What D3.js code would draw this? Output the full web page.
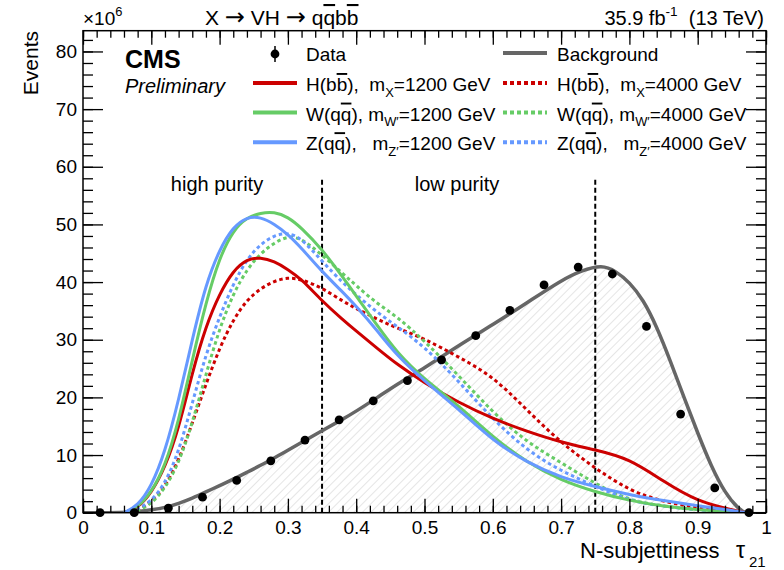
<!DOCTYPE html>
<html><head><meta charset="utf-8">
<script src="https://cdn.jsdelivr.net/npm/d3@7"></script>
<style>
body{margin:0;background:#fff}
text{font-family:"Liberation Sans",Arial,Helvetica,sans-serif;fill:#000}
</style>
</head><body>
<svg id="chart" width="784" height="570"></svg>
<script>
// ---------------- data ----------------
const gridX   = [0.06,0.08,0.10,0.12,0.14,0.16,0.18,0.20,0.22,0.24,0.26,0.28,0.30,0.32,0.35,0.38,0.40,0.43,0.46,0.50,0.55,0.60,0.65,0.70,0.75,0.80,0.85,0.90,0.95,0.97];
const hbb1200 = [0,0.8,3.4,7.8,14.5,24.3,32.4,38.0,42.0,44.0,44.3,43.6,42.2,40.5,36.7,33.5,31.5,28.6,25.7,22.5,19.1,16.3,14.1,12.2,10.9,9.4,5.4,1.9,0.5,0];
const wqq1200 = [0,0.9,3.5,8.0,15.8,26.5,36.5,44.3,49.0,51.2,52.0,52.2,51.3,49.4,45.7,40.9,37.6,32.6,27.7,23.1,18.6,13.1,8.7,5.6,3.6,2.1,1.1,0.5,0.1,0];
const zqq1200 = [0,1.2,4.5,10.5,19.5,30.1,39.7,45.7,49.6,51.3,51.3,50.1,48.3,45.9,41.8,38.3,35.8,31.7,27.2,22.8,18.0,12.5,8.7,6.1,4.5,3.1,2.1,1.2,0.4,0];
const hbb4000 = [0,0.4,1.8,4.5,9.0,15.5,22.3,28.6,33.5,36.9,38.9,40.2,40.8,40.5,39.0,36.7,35.4,33.6,32.0,30.2,27.0,23.7,17.8,12.1,7.7,3.8,1.9,0.8,0.3,0];
const wqq4000 = [0,0.3,1.5,4.2,8.5,15.5,24.0,32.0,38.0,42.2,45.0,46.8,48.0,47.6,44.7,41.5,39.4,36.3,34.0,29.8,23.8,17.4,12.2,8.7,5.0,2.1,1.1,0.5,0.1,0];
const zqq4000 = [0,0.6,2.0,5.0,10.5,19.0,27.5,34.0,39.7,44.0,46.6,48.1,48.6,47.6,43.6,39.9,37.8,34.8,32.3,28.8,22.8,16.2,10.8,7.2,4.6,2.0,1.1,0.5,0.1,0];
const bkgX    = [0,0.06,0.08,0.10,0.12,0.14,0.16,0.18,0.20,0.22,0.24,0.26,0.28,0.30,0.32,0.35,0.38,0.40,0.43,0.46,0.50,0.55,0.60,0.65,0.70,0.73,0.76,0.78,0.80,0.82,0.84,0.86,0.88,0.90,0.92,0.94,0.96,0.97];
const bkgY    = [0,0,0.2,0.5,0.85,1.6,2.5,3.6,4.7,5.8,7.0,8.2,9.5,10.8,12.2,14.2,16.2,17.6,19.9,22.3,25.1,29.0,32.6,36.4,40.3,42.0,43.0,41.9,40.0,37.0,32.3,26.3,20.0,13.8,8.0,3.4,0.6,0];
const dataX   = [0.025,0.075,0.125,0.175,0.225,0.275,0.325,0.375,0.425,0.475,0.525,0.575,0.625,0.675,0.725,0.775,0.825,0.875,0.925,0.975];
const dataY   = [0,0,0.8,2.7,5.6,9.0,12.6,16.1,19.4,22.9,26.5,30.7,35.1,39.5,42.6,41.4,32.3,17.1,4.3,0];
const purityCuts = [0.35,0.75];
const xMajorTicks = [0,0.1,0.2,0.3,0.4,0.5,0.6,0.7,0.8,0.9,1];
const xTickLabels = ["0","0.1","0.2","0.3","0.4","0.5","0.6","0.7","0.8","0.9","1"];
const yMajorTicks = [0,10,20,30,40,50,60,70,80];
const yTickLabels = ["0","10","20","30","40","50","60","70","80"];

// ---------------- layout ----------------
const svg = d3.select("#chart");
const X0 = 83, X1 = 766, Y0 = 512.7, Y1 = 30.7;
const x = d3.scaleLinear().domain([0,1]).range([X0,X1]);
const y = d3.scaleLinear().domain([0,83.6]).range([Y0,Y1]);

const RED="#cc0000", GREEN="#66cc66", BLUE="#6699ff", GREY="#666666";

const defs = svg.append("defs");
const pat = defs.append("pattern").attr("id","hatch").attr("patternUnits","userSpaceOnUse")
  .attr("width",6).attr("height",6).attr("patternTransform","rotate(45)");
pat.append("line").attr("x1",0).attr("y1",0).attr("x2",0).attr("y2",6)
  .attr("stroke","#d4d4d4").attr("stroke-width",1.2);
defs.append("clipPath").attr("id","clip").append("rect")
  .attr("x",X0).attr("y",Y1).attr("width",X1-X0).attr("height",Y0-Y1);

const plot = svg.append("g").attr("clip-path","url(#clip)");

const bkg = bkgX.map((v,i)=>[v,bkgY[i]]);
plot.append("path").datum(bkg)
  .attr("d", d3.area().x(d=>x(d[0])).y0(y(0)).y1(d=>y(d[1])).curve(d3.curveBasis))
  .attr("fill","url(#hatch)");

purityCuts.forEach(c=>{
  plot.append("line").attr("x1",x(c)).attr("x2",x(c)).attr("y1",y(0)).attr("y2",y(58))
    .attr("stroke","#000").attr("stroke-width",2).attr("stroke-dasharray","5,3");
});

plot.append("path").datum(bkg)
  .attr("d", d3.line().x(d=>x(d[0])).y(d=>y(d[1])).curve(d3.curveBasis))
  .attr("fill","none").attr("stroke",GREY).attr("stroke-width",3.5);

const signals = [
  {v:hbb4000,c:RED,dash:"3.5,3"},
  {v:wqq4000,c:GREEN,dash:"3.5,3"},
  {v:zqq4000,c:BLUE,dash:"3.5,3"},
  {v:hbb1200,c:RED,dash:null},
  {v:wqq1200,c:GREEN,dash:null},
  {v:zqq1200,c:BLUE,dash:null},
];
const sline = d3.line().x(d=>x(d[0])).y(d=>y(d[1])).curve(d3.curveBasis);
signals.forEach(s=>{
  plot.append("path").datum(gridX.map((v,i)=>[v,s.v[i]]))
    .attr("d",sline).attr("fill","none").attr("stroke",s.c).attr("stroke-width",3)
    .attr("stroke-dasharray",s.dash);
});

svg.append("g").selectAll("circle").data(dataX.map((v,i)=>[v,dataY[i]])).join("circle")
  .attr("cx",d=>x(d[0])).attr("cy",d=>y(d[1])).attr("r",4.4).attr("fill","#000");

// ---------------- axes ----------------
const xMinor = d3.range(0,1.0001,0.02).map(v=>+v.toFixed(2));
const yMinor = d3.range(0,83.6,2);
function styleAxis(g){ g.select(".domain").remove(); g.selectAll("line").attr("stroke","#000").attr("stroke-width",1.3); }

svg.append("g").attr("transform",`translate(0,${Y0})`)
  .call(d3.axisBottom(x).tickValues(xMinor).tickSize(-7).tickFormat("")).call(styleAxis);
const xb = svg.append("g").attr("transform",`translate(0,${Y0})`)
  .call(d3.axisBottom(x).tickValues(xMajorTicks).tickSize(-14).tickPadding(8)
    .tickFormat((d,i)=>xTickLabels[i])).call(styleAxis);
xb.selectAll("text").attr("font-size",19).attr("font-family",null);
svg.append("g").attr("transform",`translate(0,${Y1})`)
  .call(d3.axisTop(x).tickValues(xMinor).tickSize(-7).tickFormat("")).call(styleAxis);
svg.append("g").attr("transform",`translate(0,${Y1})`)
  .call(d3.axisTop(x).tickValues(xMajorTicks).tickSize(-14).tickFormat("")).call(styleAxis);

svg.append("g").attr("transform",`translate(${X0},0)`)
  .call(d3.axisLeft(y).tickValues(yMinor).tickSize(-10).tickFormat("")).call(styleAxis);
const yl = svg.append("g").attr("transform",`translate(${X0},0)`)
  .call(d3.axisLeft(y).tickValues(yMajorTicks).tickSize(-20).tickPadding(6)
    .tickFormat((d,i)=>yTickLabels[i])).call(styleAxis);
yl.selectAll("text").attr("font-size",19).attr("font-family",null);
svg.append("g").attr("transform",`translate(${X1},0)`)
  .call(d3.axisRight(y).tickValues(yMinor).tickSize(-10).tickFormat("")).call(styleAxis);
svg.append("g").attr("transform",`translate(${X1},0)`)
  .call(d3.axisRight(y).tickValues(yMajorTicks).tickSize(-20).tickFormat("")).call(styleAxis);

svg.append("rect").attr("x",X0).attr("y",Y1).attr("width",X1-X0).attr("height",Y0-Y1)
  .attr("fill","none").attr("stroke","#000").attr("stroke-width",1.5);

// ---------------- texts ----------------
function rich(g, xx, yy, size, segs, attrs){
  const t = g.append("text").attr("x",xx).attr("y",yy).attr("font-size",size);
  if(attrs) Object.entries(attrs).forEach(([k,v])=>t.attr(k,v));
  let shift = 0;
  segs.forEach(s=>{
    const ts = t.append("tspan").text(s.t);
    let target = s.sub ? size*0.3 : (s.sup ? -size*0.45 : 0);
    if(target!==shift){ ts.attr("dy",target-shift); shift=target; }
    if(s.sub||s.sup) ts.attr("font-size",size*0.68);
    if(s.o) ts.style("text-decoration","overline");
    if(s.f) ts.attr("font-family",s.f);
    if(s.fs) ts.attr("font-size",s.fs);
  });
  return t;
}
const NB="\u00a0";
const ARW="DejaVu Sans";
rich(svg,83,25,19,[{t:"×10"},{t:"6",sup:1}]);
rich(svg,205,25,21,[{t:"X"+NB},{t:"→",f:ARW,fs:24},{t:NB+"VH"+NB},{t:"→",f:ARW,fs:24},{t:NB+"q"},{t:"q",o:1},{t:"b"},{t:"b",o:1}]);
rich(svg,764,25,20,[{t:"35.9 fb"},{t:"-1",sup:1},{t:NB+NB+"(13 TeV)"}],{"text-anchor":"end"});

svg.append("text").attr("transform","translate(38,31) rotate(-90)").attr("text-anchor","end")
  .attr("font-size",21).text("Events");
svg.append("text").attr("x",580).attr("y",558).attr("font-size",22).text("N-subjettiness");
svg.append("text").attr("x",736).attr("y",558).attr("font-size",23).text("τ");
svg.append("text").attr("x",749).attr("y",567).attr("font-size",15).text("21");

svg.append("text").attr("x",125).attr("y",68).attr("font-size",25).attr("font-weight","bold").text("CMS");
svg.append("text").attr("x",125).attr("y",93).attr("font-size",20).attr("font-style","italic").text("Preliminary");

svg.append("text").attr("x",217).attr("y",191).attr("font-size",20).attr("text-anchor","middle").text("high purity");
svg.append("text").attr("x",457).attr("y",191).attr("font-size",20).attr("text-anchor","middle").text("low purity");

const lg = svg.append("g");
lg.append("line").attr("x1",275).attr("x2",275).attr("y1",46).attr("y2",62).attr("stroke","#000").attr("stroke-width",1.5);
lg.append("circle").attr("cx",275).attr("cy",54).attr("r",4.4).attr("fill","#000");
rich(lg,306,61,19,[{t:"Data"}]);
lg.append("line").attr("x1",503).attr("x2",547).attr("y1",53).attr("y2",53).attr("stroke",GREY).attr("stroke-width",4);
rich(lg,557,61,19,[{t:"Background"}]);

const legRows = [
  {c:RED, segs:m=>[{t:"H(b"},{t:"b",o:1},{t:"),"+NB+NB+"m"},{t:"X",sub:1},{t:"="+m+" GeV"}]},
  {c:GREEN, segs:m=>[{t:"W(q"},{t:"q",o:1},{t:"), m"},{t:"W′",sub:1},{t:"="+m+" GeV"}]},
  {c:BLUE, segs:m=>[{t:"Z(q"},{t:"q",o:1},{t:"),"+NB+NB+NB+"m"},{t:"Z′",sub:1},{t:"="+m+" GeV"}]},
];
legRows.forEach((r,i)=>{
  const yy = 83 + i*29.6;
  lg.append("line").attr("x1",253).attr("x2",297).attr("y1",yy).attr("y2",yy).attr("stroke",r.c).attr("stroke-width",4);
  rich(lg,306,yy+8,19,r.segs("1200"));
  lg.append("line").attr("x1",503).attr("x2",547).attr("y1",yy).attr("y2",yy).attr("stroke",r.c).attr("stroke-width",4).attr("stroke-dasharray","4,3");
  rich(lg,557,yy+8,19,r.segs("4000"));
});
</script>
</body></html>
